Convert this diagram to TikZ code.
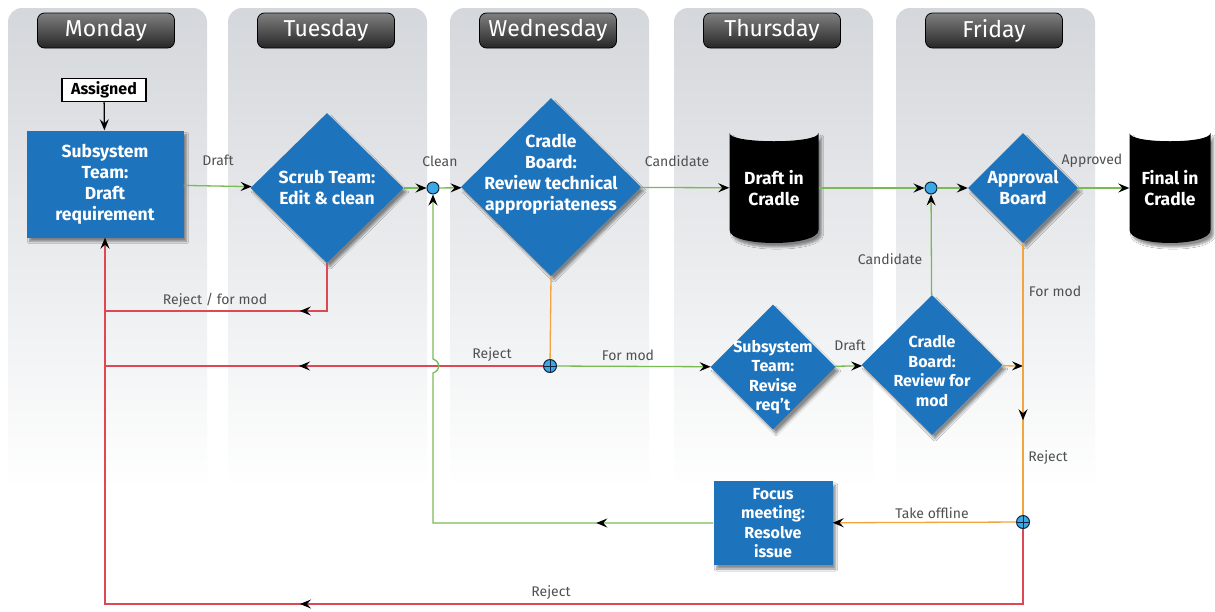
\documentclass[tikz,border=0pt]{standalone}
\usepackage{fontspec}
\setmainfont{Fira Sans}
\usepackage{tikz}
\usetikzlibrary{calc, arrows.meta, positioning}
\usetikzlibrary{shapes.geometric, shadows.blur, decorations.markings}

\definecolor{boxblue}{RGB}{30,116,188}
\definecolor{lanegray}{RGB}{212,215,219}
\definecolor{flowgreen}{RGB}{122,186,84}
\definecolor{flowred}{RGB}{222,72,84}
\definecolor{floworange}{RGB}{242,164,64}
\definecolor{juncblue}{RGB}{58,168,226}
\definecolor{juncnavy}{RGB}{18,38,66}
\definecolor{lblgray}{RGB}{80,80,80}

\tikzset{
  >={Stealth[length=11pt, width=9pt, inset=4pt, color=black]},
  lane/.style={rounded corners=14pt, top color=lanegray, middle color=lanegray!75, bottom color=white},
  dayhead/.style={rounded corners=7pt, draw=black, line width=0.8pt, top color=black!50, bottom color=black!85,
    text=white, minimum width=137pt, minimum height=35pt, font=\fontsize{23}{26}\selectfont},
  shade/.style={blur shadow={shadow xshift=3pt, shadow yshift=-4pt, shadow opacity=45, shadow blur steps=8}},
  task/.style={rectangle, fill=boxblue, text=white, align=center, shade, inner sep=2pt},
  decide/.style={diamond, fill=boxblue, text=white, align=center, shade, inner sep=-8pt},
  bigtext/.style={text=white, align=center, font=\bfseries\fontsize{17.5}{21}\selectfont},
  smalltext/.style={text=white, align=center, font=\bfseries\fontsize{16}{19.5}\selectfont},
  tank/.style={rectangle, bigtext},
  dot/.style={circle, draw=juncnavy, line width=1pt, fill=juncblue, minimum size=12pt, inner sep=0pt},
  plus/.style={dot, minimum size=13pt, path picture={\draw[juncnavy, line width=1pt]
      (path picture bounding box.north) -- (path picture bounding box.south)
      (path picture bounding box.west) -- (path picture bounding box.east);}},
  lbl/.style={text=lblgray, font=\fontsize{14}{16}\selectfont},
  greenline/.style={flowgreen, line width=1.3pt},
  redline/.style={flowred, line width=1.3pt},
  orangeline/.style={floworange, line width=1.3pt},
  midarrow/.style={postaction={decorate, decoration={markings, mark=at position #1 with {\arrow{>}}}}}
}

% black can shape round a centre coordinate: half width, half height
\newcommand{\tankshape}[3]{%
  \fill[black, shade] ($(#1)+(-#2,-#3)$) .. controls ($(#1)+(-#2,-#3+11)$) and ($(#1)+(#2,-#3+11)$) .. ($(#1)+(#2,-#3)$)
    -- ($(#1)+(#2,#3-13)$) .. controls ($(#1)+(#2,#3+4.3)$) and ($(#1)+(-#2,#3+4.3)$) .. ($(#1)+(-#2,#3-13)$) -- cycle;}

\begin{document}
\begin{tikzpicture}[x=1pt, y=-1pt]
  \fill[white] (0,0) rectangle (1215,611);
  \useasboundingbox (0,0) rectangle (1215,611);

  % lanes and day headers
  \foreach \lx/\day in {8/Monday, 228/Tuesday, 450/Wednesday, 674/Thursday, 896/Friday}{
    \path[lane] (\lx,8) rectangle ++(199,482);
    \node[dayhead] (head\day) at ($(\lx,30.5)+(98,0)$) {\day};
  }

  % nodes
  \node[draw=black, line width=1.6pt, fill=white, minimum width=84pt, minimum height=23pt, inner sep=0pt,
    font=\bfseries\fontsize{16}{18}\selectfont] (assigned) at (104,90) {Assigned};
  \node[task, minimum width=157pt, minimum height=107pt, bigtext] (subsys) at (105,184)
    {Subsystem\\Team:\\Draft\\requirement};
  \node[decide, minimum width=153pt, minimum height=150pt, bigtext] (scrub) at (327,188)
    {Scrub Team:\\Edit \& clean};
  \node[dot] (jclean) at (433,188) {};
  \node[decide, minimum width=180pt, minimum height=178pt] (techrev) at (551,187) {};
  \node[bigtext] (techrevtext) at (551,174) {Cradle\\Board:\\Review technical\\appropriateness};
  \coordinate (draftc) at (774,188);
  \tankshape{draftc}{44.5}{55}
  \node[tank, minimum width=89pt, minimum height=110pt] (draft) at (draftc) {Draft in\\Cradle};
  \node[dot] (jcand) at (931,188) {};
  \node[decide, minimum width=110pt, minimum height=110pt, bigtext] (approval) at (1023,188)
    {Approval\\Board};
  \coordinate (finalc) at (1170,188);
  \tankshape{finalc}{40.5}{55}
  \node[tank, minimum width=81pt, minimum height=110pt] (final) at (finalc) {Final in\\Cradle};

  \node[plus] (jmod) at (550,366) {};
  \node[decide, minimum width=125pt, minimum height=125pt] (revise) at (773,367) {};
  \node[smalltext] (revisetext) at (773,377) {Subsystem\\Team:\\Revise\\req't};
  \node[decide, minimum width=141pt, minimum height=140pt] (modrev) at (932,365) {};
  \node[smalltext] (modrevtext) at (932,371) {Cradle\\Board:\\Review for\\mod};
  \node[plus] (joff) at (1023,522) {};
  \node[task, minimum width=119pt, minimum height=84pt, smalltext] (focus) at (773,523)
    {Focus\\meeting:\\Resolve\\issue};

  \coordinate (rejscrub) at (105,311);
  \coordinate (rejtech) at (105,366);
  \coordinate (botright) at (1023,604);
  \coordinate (modrail) at (1023,366);
  \coordinate (bridgelo) at (433,373);
  \coordinate (bridgehi) at (433,359);

  % connectors
  \draw[line width=1.3pt, ->] (assigned) -- (subsys);
  \draw[greenline, ->] (subsys) -- (scrub);
  \draw[greenline, ->] (scrub) -- (jclean);
  \draw[greenline, ->] (jclean) -- (techrev);
  \draw[greenline, ->] (techrev) -- (draft);
  \draw[greenline, ->] (draft) -- (jcand);
  \draw[greenline, ->] (jcand) -- (approval);
  \draw[greenline, ->] (approval) -- (final);

  \draw[redline, midarrow=75pt] (scrub.south) |- (rejscrub);
  \draw[orangeline] (techrev.south) -- (jmod);
  \draw[redline, midarrow=244pt] (jmod) -- (rejtech);
  \draw[greenline, ->] (jmod) -- (revise);
  \draw[greenline, ->] (revise) -- (modrev);
  \draw[greenline, ->] (modrev) -- (jcand);
  \draw[orangeline, ->] (modrev) -- (modrail);
  \draw[orangeline, midarrow=177pt] (approval.south) -- (joff);
  \draw[orangeline, ->] (joff) -- (focus);
  \draw[greenline, ->, midarrow=117pt] (focus.west) -| (bridgelo)
    .. controls (441,370) and (441,362) .. (bridgehi) -- (jclean);
  \draw[redline, ->, midarrow=798pt] (joff) -- (botright) -| (subsys.south);

  % labels
  \node[lbl] (lbldraft) at (218,160) {Draft};
  \node[lbl] (lblclean) at (440,161) {Clean};
  \node[lbl] (lblcand) at (677,161) {Candidate};
  \node[lbl] (lblappr) at (1092,161) {Approved};
  \node[lbl] (lblrejmod) at (215,300) {Reject / for mod};
  \node[lbl] (lblrej) at (492,355) {Reject};
  \node[lbl] (lblmod) at (628,355) {For mod};
  \node[lbl] (lbldraft2) at (850,345) {Draft};
  \node[lbl] (lblcand2) at (890,259) {Candidate};
  \node[lbl] (lblmod2) at (1055,291) {For mod};
  \node[lbl] (lblrej2) at (1048,458) {Reject};
  \node[lbl] (lbloff) at (932,513) {Take offline};
  \node[lbl] (lblrej3) at (551,593) {Reject};
\end{tikzpicture}
\end{document}
